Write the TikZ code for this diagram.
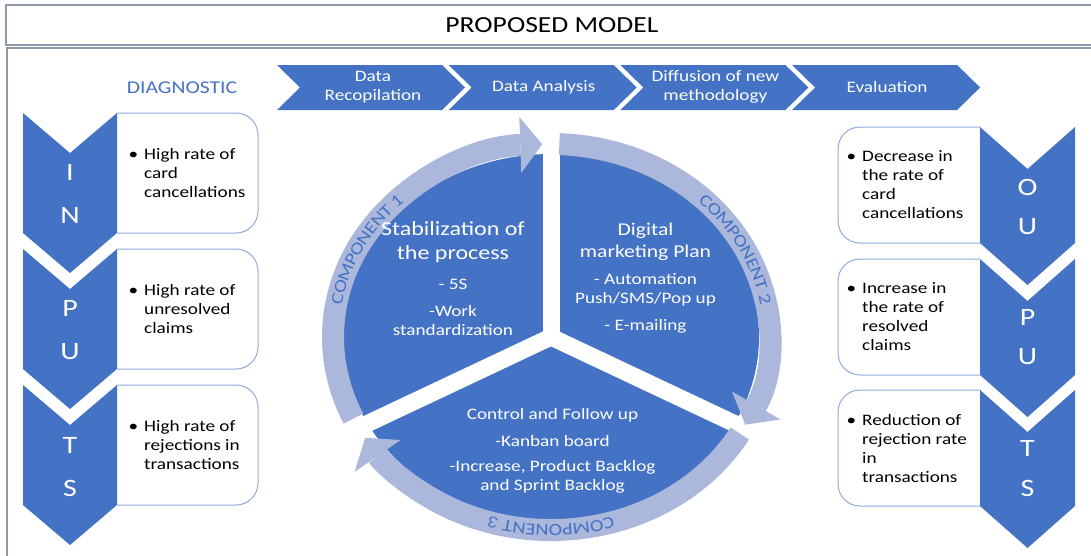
\documentclass[tikz,border=0pt]{standalone}
\usepackage{fontspec}
\setmainfont{Carlito}[FakeStretch=1.2]
\usetikzlibrary{arrows.meta, positioning, decorations.text}

\definecolor{modelblue}{HTML}{4472C4}
\definecolor{ringblue}{HTML}{ABB8DC}
\definecolor{boxblue}{HTML}{8FAADC}
\definecolor{framegray}{HTML}{8E9AAB}
\newcommand{\compfont}{\fontsize{17}{17}\selectfont\color{modelblue}}
\newcommand{\itembullet}{\llap{\textbullet\hspace{6pt}}}

\begin{document}
\begin{tikzpicture}[
        x=1pt,
        y=-1pt,
        framebox/.style={draw=framegray, line width=1.3pt},
        chevron/.style={fill=modelblue},
        roundbox/.style={draw=boxblue, line width=1pt, rounded corners=22pt},
        letter/.style={text=white, inner sep=0pt, font=\fontsize{25}{25}\selectfont},
        steplabel/.style={text=white, inner sep=0pt, align=center, font=\fontsize{16}{19}\selectfont},
        bullets/.style={anchor=west, inner sep=0pt, align=left, font=\fontsize{16}{19}\selectfont},
        sector/.style={text=white, inner sep=0pt, align=center, font=\fontsize{16}{19}\selectfont},
        ring/.style={draw=ringblue, line width=22pt, -{Triangle[width=56pt, length=22pt, line width=0pt]}},
        gap/.style={draw=white, line width=17pt},
        comptext/.style={decorate, decoration={text along path, text align=center, raise=-5.5pt}}
    ]
        \useasboundingbox (0,0) rectangle (1091,555);
        \clip (0,0) rectangle (1091,555);

        % Frame
        \draw[framebox] (6,5) rectangle (1100,45);
        \draw[framebox] (7,48) rectangle (1100,570);
        \node[font=\fontsize{23}{23}\selectfont] (title) at (552,25) {PROPOSED MODEL};

        % Steps
        \node[text=modelblue, font=\fontsize{18}{18}\selectfont] (diagnostic) at (182,88) {DIAGNOSTIC};
        \fill[chevron] (277,65) -- ++(165,0) -- ++(23,22.5) -- ++(-23,22.5) -- ++(-165,0) -- ++(23,-22.5) -- cycle;
        \fill[chevron] (448.7,65) -- ++(165,0) -- ++(23,22.5) -- ++(-23,22.5) -- ++(-165,0) -- ++(23,-22.5) -- cycle;
        \fill[chevron] (620.4,65) -- ++(165,0) -- ++(23,22.5) -- ++(-23,22.5) -- ++(-165,0) -- ++(23,-22.5) -- cycle;
        \fill[chevron] (792.1,65) -- ++(165,0) -- ++(23,22.5) -- ++(-23,22.5) -- ++(-165,0) -- ++(23,-22.5) -- cycle;
        \node[steplabel] (recopilation) at (373,87) {Data\\Recopilation};
        \node[steplabel] (analysis) at (543.7,87) {Data Analysis};
        \node[steplabel] (diffusion) at (715.4,87) {Diffusion of new\\methodology};
        \node[steplabel] (evaluation) at (887.1,87) {Evaluation};

        % Inputs
        \draw[roundbox] (117,113) -- (258,113) -- (258,233) -- (117,233);
        \draw[roundbox] (117,249) -- (258,249) -- (258,369) -- (117,369);
        \draw[roundbox] (117,385) -- (258,385) -- (258,505) -- (117,505);
        \fill[chevron] (23,113) -- ++(47,40) -- ++(47,-40) -- ++(0,120) -- ++(-47,40) -- ++(-47,-40) -- cycle;
        \fill[chevron] (23,249) -- ++(47,40) -- ++(47,-40) -- ++(0,120) -- ++(-47,40) -- ++(-47,-40) -- cycle;
        \fill[chevron] (23,385) -- ++(47,40) -- ++(47,-40) -- ++(0,120) -- ++(-47,40) -- ++(-47,-40) -- cycle;
        \node[letter] (inI) at (70,172) {I};
        \node[letter] (inN) at (70,215) {N};
        \node[letter] (inP) at (70,308) {P};
        \node[letter] (inU) at (70,352) {U};
        \node[letter] (inT) at (70,445) {T};
        \node[letter] (inS) at (70,488) {S};
        \node[bullets] (input1) at (144,173) {\itembullet High rate of\\card\\cancellations};
        \node[bullets] (input2) at (144,309) {\itembullet High rate of\\unresolved\\claims};
        \node[bullets] (input3) at (144,445) {\itembullet High rate of\\rejections in\\transactions};

        % Outputs
        \draw[roundbox] (980,127) -- (838,127) -- (838,243) -- (980,243);
        \draw[roundbox] (980,259) -- (838,259) -- (838,375) -- (980,375);
        \draw[roundbox] (980,390) -- (838,390) -- (838,506) -- (980,506);
        \fill[chevron] (980,127) -- ++(47.5,42) -- ++(47.5,-42) -- ++(0,116) -- ++(-47.5,42) -- ++(-47.5,-42) -- cycle;
        \fill[chevron] (980,259) -- ++(47.5,42) -- ++(47.5,-42) -- ++(0,116) -- ++(-47.5,42) -- ++(-47.5,-42) -- cycle;
        \fill[chevron] (980,390) -- ++(47.5,42) -- ++(47.5,-42) -- ++(0,116) -- ++(-47.5,42) -- ++(-47.5,-42) -- cycle;
        \node[letter] (outO) at (1027.5,187) {O};
        \node[letter] (outU) at (1027.5,227) {U};
        \node[letter] (outP) at (1027.5,317) {P};
        \node[letter] (outU2) at (1027.5,357) {U};
        \node[letter] (outT) at (1027.5,448) {T};
        \node[letter] (outS) at (1027.5,488) {S};
        \node[bullets] (output1) at (862,185) {\itembullet Decrease in\\the rate of\\card\\cancellations};
        \node[bullets] (output2) at (862,317) {\itembullet Increase in\\the rate of\\resolved\\claims};
        \node[bullets] (output3) at (862,448) {\itembullet Reduction of\\rejection rate\\in\\transactions};

        % Cycle
        \begin{scope}[shift={(551,337)}, y=1pt]
            \fill[modelblue] (0,0) ellipse [x radius=208, y radius=183];
            \draw[gap] (0,0) -- (90:245 and 222);
            \draw[gap] (0,0) -- (207.5:245 and 222);
            \draw[gap] (0,0) -- (-27.5:245 and 222);
            \draw[ring] (205:218 and 193) arc[start angle=205, end angle=92.3, x radius=218, y radius=193];
            \draw[ring] (87.8:218 and 193) arc[start angle=87.8, end angle=-27, x radius=218, y radius=193];
            \draw[ring] (-30:218 and 193) arc[start angle=-30, end angle=-148.5, x radius=218, y radius=193];
            \path[comptext, decoration={text={|\compfont|COMPONENT 1}}] (174:218 and 193) arc[start angle=174, end angle=130, x radius=218, y radius=193];
            \path[comptext, decoration={text={|\compfont|COMPONENT 2}}] (48:218 and 193) arc[start angle=48, end angle=8, x radius=218, y radius=193];
            \path[comptext, decoration={text={|\compfont|COMPONENT 3}}] (-70:218 and 193) arc[start angle=-70, end angle=-110, x radius=218, y radius=193];
        \end{scope}
        \node[sector, font=\fontsize{20}{24}\selectfont] (stabilization) at (453,242) {Stabilization of\\the process};
        \node[sector] (fives) at (453,284) {- 5S};
        \node[sector] (work) at (453,320) {-Work\\standardization};
        \node[sector, font=\fontsize{18}{22}\selectfont] (marketing) at (645.5,242) {Digital\\marketing Plan};
        \node[sector] (automation) at (645.5,290) {- Automation\\Push/SMS/Pop up};
        \node[sector] (emailing) at (645.5,326) {- E-mailing};
        \node[sector] (control) at (552.5,415) {Control and Follow up};
        \node[sector] (kanban) at (552.5,441) {-Kanban board};
        \node[sector] (backlog) at (552.5,477) {-Increase, Product Backlog\\and Sprint Backlog};
    \end{tikzpicture}
\end{document}
